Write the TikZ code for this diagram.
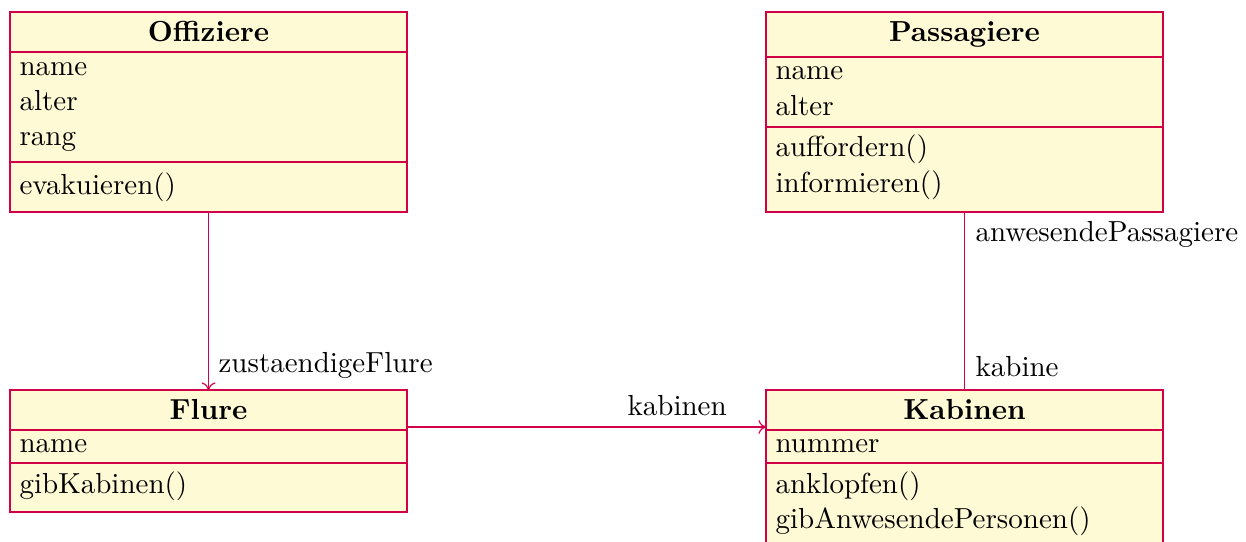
\documentclass[tikz,border=0pt]{standalone}
\usetikzlibrary{calc,arrows.meta}
\definecolor{umlred}{RGB}{210,0,70}
\definecolor{umlfill}{RGB}{255,250,214}
\begin{document}
\begin{tikzpicture}[x=0.3448pt,y=-0.3448pt,
  classbox/.style={draw=umlred,fill=umlfill,line width=0.4pt,anchor=north west,minimum width=136.9pt,inner sep=0pt,outer sep=0pt},
  sepline/.style={draw=umlred,line width=0.4pt},
  txt/.style={anchor=base west,inner sep=0pt},
  ttl/.style={anchor=base,inner sep=0pt,font=\bfseries},
  rel/.style={draw=umlred,line width=0.4pt},
  navi/.style={-{To[length=2.6pt,width=4.8pt]}},
  lbl/.style={anchor=base west,inner sep=0pt}]
\useasboundingbox (0,0) rectangle (1246,542);

% Offiziere
\node[classbox,minimum height=68.97pt] (off) at (10,12) {};
\draw[sepline] (10,52) -- (407,52);
\draw[sepline] (10,162) -- (407,162);
\node[ttl] (offT) at (208.5,42) {Offiziere};
\node[txt] (offA1) at (19,76) {name};
\node[txt] (offA2) at (19,111) {alter};
\node[txt] (offA3) at (19,146) {rang};
\node[txt] (offO1) at (19,195) {evakuieren()};

% Passagiere
\node[classbox,minimum height=68.97pt] (pas) at (766,12) {};
\draw[sepline] (766,57) -- (1163,57);
\draw[sepline] (766,127) -- (1163,127);
\node[ttl] (pasT) at (964.5,42) {Passagiere};
\node[txt] (pasA1) at (775,80) {name};
\node[txt] (pasA2) at (775,116) {alter};
\node[txt] (pasO1) at (775,157) {auffordern()};
\node[txt] (pasO2) at (775,193) {informieren()};

% Flure
\node[classbox,minimum height=42.07pt] (flu) at (10,390) {};
\draw[sepline] (10,430) -- (407,430);
\draw[sepline] (10,463) -- (407,463);
\node[ttl] (fluT) at (208.5,420) {Flure};
\node[txt] (fluA1) at (19,453) {name};
\node[txt] (fluO1) at (19,494) {gibKabinen()};

% Kabinen
\node[classbox,minimum height=55.17pt] (kab) at (766,390) {};
\draw[sepline] (766,430) -- (1163,430);
\draw[sepline] (766,463) -- (1163,463);
\node[ttl] (kabT) at (964.5,420) {Kabinen};
\node[txt] (kabA1) at (775,453) {nummer};
\node[txt] (kabO1) at (775,494) {anklopfen()};
\node[txt] (kabO2) at (775,529) {gibAnwesendePersonen()};

% relations
\draw[rel,navi] (off.south) -- (flu.north);
\draw[rel,navi] ([yshift=-12.76pt]flu.north east) -- ([yshift=-12.76pt]kab.north west);
\draw[rel] (pas.south) -- (kab.north);

% labels
\node[lbl] (l1) at (218,373) {zustaendigeFlure};
\node[lbl] (l2) at (627,416) {kabinen};
\node[lbl] (l3) at (975,242) {anwesendePassagiere};
\node[lbl] (l4) at (975,377) {kabine};
\end{tikzpicture}
\end{document}
